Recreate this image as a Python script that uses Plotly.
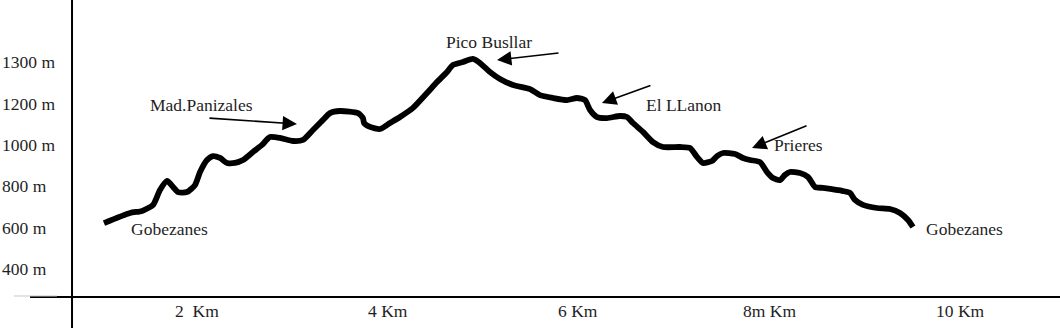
import plotly.graph_objects as go

# Elevation profile (distance in km, elevation on the drawing's scale)
dist_km = [1.027, 1.30, 1.426, 1.541, 1.614, 1.688, 1.751, 1.803, 1.897, 1.981,
           2.034, 2.107, 2.170, 2.243, 2.317, 2.400, 2.484, 2.589, 2.683, 2.767,
           2.872, 3.008, 3.113, 3.218, 3.323, 3.396, 3.501, 3.690, 3.742, 3.753,
           3.816, 3.920, 4.025, 4.130, 4.266, 4.413, 4.518, 4.623, 4.686, 4.790,
           4.895, 4.969, 5.073, 5.178, 5.314, 5.493, 5.597, 5.734, 5.881, 5.985,
           6.069, 6.122, 6.195, 6.300, 6.436, 6.509, 6.572, 6.677, 6.782, 6.887,
           7.065, 7.170, 7.243, 7.306, 7.400, 7.453, 7.516, 7.642, 7.725, 7.799,
           7.904, 7.977, 8.040, 8.113, 8.166, 8.218, 8.323, 8.407, 8.480, 8.564,
           8.774, 8.847, 8.899, 8.983, 9.130, 9.266, 9.371, 9.455, 9.507]
elev_m = [622, 671, 681, 710, 782, 826, 797, 772, 772, 806,
          869, 927, 946, 937, 913, 913, 927, 966, 1000, 1038,
          1034, 1019, 1024, 1072, 1121, 1154, 1164, 1154, 1130, 1106,
          1087, 1077, 1106, 1135, 1179, 1251, 1304, 1353, 1387, 1401,
          1416, 1396, 1353, 1319, 1290, 1270, 1241, 1227, 1217, 1227,
          1217, 1169, 1135, 1130, 1140, 1135, 1106, 1063, 1014, 990,
          990, 985, 942, 913, 922, 946, 961, 956, 937, 927,
          917, 869, 840, 830, 855, 869, 864, 845, 797, 792,
          777, 768, 734, 710, 695, 690, 671, 637, 603]

# Axis labels
y_tick_vals = [1400, 1200, 1000, 800, 600, 400]
y_tick_text = ["1300 m", "1200 m", "1000 m", "800 m", "600 m", "400 m"]
x_tick_vals = [2, 4, 6, 8, 10]
x_tick_text = ["2  Km", "4 Km", "6 Km", "8m Km", "10 Km"]

# Place names
place_names = ["Mad.Panizales", "Pico Busllar", "El LLanon", "Prieres", "Gobezanes", "Gobezanes"]
place_km = [2.044, 5.063, 7.107, 8.302, 1.719, 10.042]
place_elev = [1193, 1498, 1193, 1000, 593, 593]

# Arrows: head (x, y) and tail (ax, ay)
arrow_head_km = [3.050, 5.147, 6.247, 7.820]
arrow_head_elev = [1101, 1411, 1203, 985]
arrow_tail_km = [2.117, 5.807, 6.771, 8.407]
arrow_tail_elev = [1130, 1445, 1290, 1096]

FONT = "Liberation Serif"
TXT = "#1e1e1e"
FS = 17.5

fig = go.Figure()
fig.add_trace(go.Scatter(
    x=dist_km, y=elev_m, mode="lines",
    line=dict(color="black", width=5.8, shape="spline", smoothing=0.6),
    hoverinfo="skip", showlegend=False))

X0, X1 = -6 / 95.4, (1060 - 6) / 95.4
Y0, Y1 = 400 - 61 * 4.836, 400 + 269 * 4.836

shapes = [
    dict(type="line", xref="x", yref="y", x0=0.692, x1=0.692, y0=115, y1=Y1,
         line=dict(color="black", width=2)),
    dict(type="line", xref="x", yref="y", x0=0.252, x1=X1, y0=264.6, y1=264.6,
         line=dict(color="black", width=2)),
    dict(type="line", xref="x", yref="y", x0=0.084, x1=0.534, y0=269.5, y1=269.5,
         line=dict(color="#c8c8c8", width=1)),
]

annotations = []
for v, t in zip(y_tick_vals, y_tick_text):
    annotations.append(dict(xref="paper", yref="y", x=0, y=v, text=t, showarrow=False,
                            xanchor="left", yanchor="middle",
                            font=dict(family=FONT, size=FS, color=TXT)))
for v, t in zip(x_tick_vals, x_tick_text):
    annotations.append(dict(xref="x", yref="y", x=v, y=197, text=t, showarrow=False,
                            xanchor="center", yanchor="middle",
                            font=dict(family=FONT, size=FS, color=TXT)))
for n, xk, ye in zip(place_names, place_km, place_elev):
    annotations.append(dict(xref="x", yref="y", x=xk, y=ye, text=n, showarrow=False,
                            xanchor="center", yanchor="middle",
                            font=dict(family=FONT, size=FS, color=TXT)))
for hx, hy, tx, ty in zip(arrow_head_km, arrow_head_elev, arrow_tail_km, arrow_tail_elev):
    annotations.append(dict(xref="x", yref="y", x=hx, y=hy, ax=tx, ay=ty,
                            axref="x", ayref="y", text="", showarrow=True,
                            arrowhead=2, arrowsize=1.8, arrowwidth=1.6,
                            arrowcolor="black"))

fig.update_layout(
    width=1060, height=330,
    margin=dict(l=0, r=0, t=0, b=0),
    paper_bgcolor="white", plot_bgcolor="white",
    xaxis=dict(range=[X0, X1], visible=False, fixedrange=True),
    yaxis=dict(range=[Y0, Y1], visible=False, fixedrange=True),
    shapes=shapes, annotations=annotations,
    showlegend=False,
)

fig.write_html("out.html")
